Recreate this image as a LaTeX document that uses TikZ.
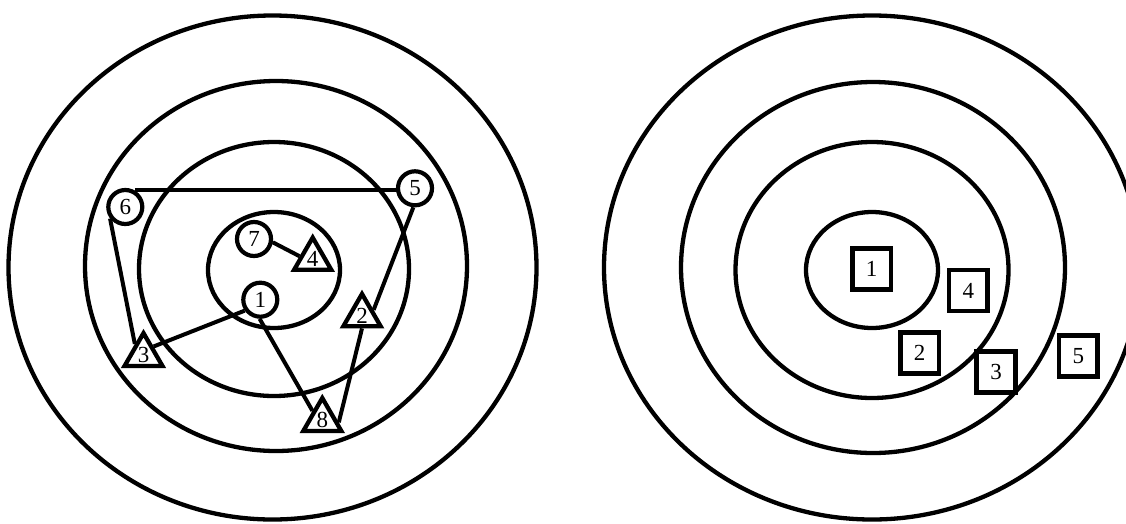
\documentclass[tikz,border=0pt]{standalone}
\usepackage{fontspec}
\setmainfont{Liberation Serif}
\usetikzlibrary{shapes.geometric}
\begin{document}
\begin{tikzpicture}[x=1pt,y=-1pt,
  ring/.style={line width=4.3pt},
  digit/.style={font=\fontsize{23}{23}\selectfont},
  cnode/.style={circle,draw,fill=white,line width=4.2pt,minimum size=34pt,inner sep=0pt,digit},
  tnode/.style={regular polygon,regular polygon sides=3,draw,fill=white,line width=4.3pt,minimum size=38.5pt,inner sep=0pt,digit},
  snode/.style={rectangle,draw,fill=white,line width=4.6pt,minimum width=38.5pt,minimum height=41pt,inner sep=0pt,digit},
  link/.style={line width=4pt}]
\useasboundingbox (0,0) rectangle (1126,523);
\clip (0,0) rectangle (1126,523);
\fill[white] (0,0) rectangle (1126,523);

% left target
\draw[ring] (272.5,267.5) ellipse [x radius=264, y radius=252];
\draw[ring] (276,266) ellipse [x radius=191, y radius=185];
\draw[ring] (274,269) ellipse [x radius=135, y radius=127];
\draw[ring] (274,270) ellipse [x radius=66, y radius=58];

% right target
\draw[ring] (872,267.5) ellipse [x radius=268, y radius=252];
\draw[ring] (873,267.5) ellipse [x radius=192, y radius=185.5];
\draw[ring] (872,270) ellipse [x radius=136.5, y radius=128];
\draw[ring] (872,270) ellipse [x radius=66, y radius=58];

% left nodes
\node[cnode] (n6) at (125.3,207) {6};
\node[cnode] (n5) at (415,188.3) {5};
\node[cnode] (n7) at (254,239) {7};
\node[cnode] (n1) at (260.3,299.7) {1};
\node[tnode] (t4) at (312.7,259) {4};
\node[tnode] (t2) at (362,315.5) {2};
\node[tnode] (t3) at (143.5,355) {3};
\node[tnode] (t8) at (322.3,420) {8};

% left connectors
\draw[link] (n6.60) -- (n5.west |- n6.60);
\draw[link] (n6.217) -- (t3.128);
\draw[link] (n1.215) -- (t3.40);
\draw[link] (n1.268) -- (t8.137);
\draw[link] (n5.265) -- (t2.26);
\draw[link] (t2.south) -- (t8.-8);
\draw[link] (n7.-10) -- (t4.168);

% right nodes
\node[snode] (s1) at (871.7,268.7) {1};
\node[snode] (s4) at (968.3,290.5) {4};
\node[snode] (s2) at (919.7,353) {2};
\node[snode] (s3) at (996,372) {3};
\node[snode] (s5) at (1078.3,356) {5};
\end{tikzpicture}
\end{document}
